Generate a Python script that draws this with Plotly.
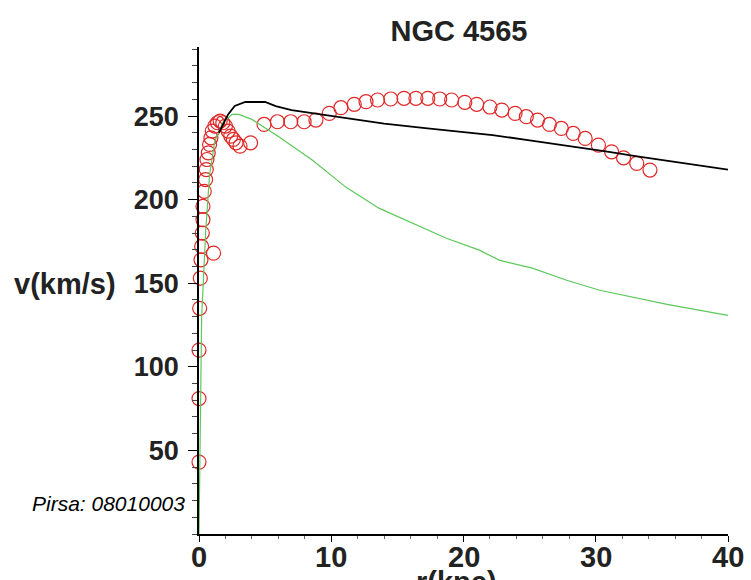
import plotly.graph_objects as go

# --- data ---
# observed rotation curve (red circles)
r_obs = [0.0, 0.0, 0.0, 0.05, 0.1, 0.15, 1.1, 0.2, 0.25, 0.3, 0.3, 0.4, 0.5, 0.55,
         0.6, 0.7, 0.8, 0.9, 1.0, 1.2, 1.4, 1.6, 1.8, 2.0, 2.2, 2.4, 2.6, 2.8, 3.1, 3.9,
         4.92, 5.93, 6.94, 7.95, 8.84, 9.85, 10.73, 11.74, 12.63, 13.5, 14.5, 15.5,
         16.4, 17.3, 18.2, 19.1, 20.1, 21.0, 22.0, 22.9, 23.9, 24.75, 25.6, 26.5,
         27.4, 28.3, 29.2, 30.2, 31.2, 32.1, 33.1, 34.1]
v_obs = [43, 81, 110, 135, 153, 164, 168, 172, 180, 188, 196, 205, 212, 218,
         224, 228, 233, 237, 241, 244, 246, 247, 246, 244, 241, 238, 236, 234, 232, 234,
         245.0, 246.6, 246.6, 246.6, 247.6, 251.6, 255.0, 257.0, 258.6, 259.6, 260.2, 260.6,
         260.6, 260.6, 260.2, 259.6, 258.2, 257.0, 255.4, 253.6, 251.6, 249.6, 247.6, 245.0,
         242.6, 239.6, 236.6, 232.6, 228.6, 225.0, 221.7, 217.7]

# total model curve (black)
r_tot = [1.5, 2.2, 2.7, 3.5, 5.0, 5.8, 7.0, 9.5, 12.0, 14.0, 17.1, 20.0, 22.2,
         25.0, 27.2, 29.0, 31.0, 33.0, 35.1, 37.5, 40.0]
v_tot = [240, 251, 256, 258.4, 258.4, 256, 253.5, 250.6, 247.6, 245.5, 242.8, 240.5, 238.6,
         235.5, 233, 231, 228.6, 226, 223.7, 221, 218]

# luminous-matter curve (green)
r_lum = [0.0, 0.1, 0.2, 0.5, 0.8, 1.2, 1.8, 2.5, 3.0, 4.0, 5.0, 6.06, 8.56, 11.1,
         13.6, 16.1, 18.7, 21.2, 22.7, 25.2, 27.8, 30.3, 32.8, 35.4, 37.9, 40.0]
v_lum = [0, 80, 130, 180, 215, 235, 246, 251, 251, 248, 243, 237.4, 223.7, 207.5,
         194.9, 185.9, 176.9, 169.8, 163.8, 159, 151.8, 145.8, 141.6, 137.4, 133.8, 130.8]

x_ticks = [0, 10, 20, 30, 40]
y_ticks = [50, 100, 150, 200, 250]

FONT = "Liberation Sans, Arial, sans-serif"

fig = go.Figure()
fig.add_trace(go.Scatter(x=r_obs, y=v_obs, mode="markers", cliponaxis=False,
                         marker=dict(symbol="circle-open", size=14, color="#e02828",
                                     line=dict(width=1.2, color="#e02828")),
                         showlegend=False))
fig.add_trace(go.Scatter(x=r_lum, y=v_lum, mode="lines", cliponaxis=False,
                         line=dict(color="#5cc85c", width=1.2), showlegend=False))
fig.add_trace(go.Scatter(x=r_tot, y=v_tot, mode="lines", cliponaxis=False,
                         line=dict(color="black", width=1.8), showlegend=False))

fig.update_layout(
    width=751, height=580,
    margin=dict(l=199, r=23, t=47, b=46),
    paper_bgcolor="white", plot_bgcolor="white",
    font=dict(family=FONT, color="black"),
    title=dict(text="<b>NGC 4565</b>", x=459 / 751, xanchor="center",
               y=1 - 31 / 580, yanchor="middle",
               font=dict(size=29, family=FONT, color="#222")),
)
fig.update_xaxes(range=[0, 40], tickvals=x_ticks, automargin=False, showticklabels=False,
                 showgrid=False, zeroline=False, showline=True, linecolor="black", linewidth=1.5,
                 ticks="outside", ticklen=6, tickwidth=1.2, tickcolor="black",
                 minor=dict(dtick=2, ticks="outside", ticklen=3, tickcolor="#666", tickwidth=1))
fig.update_yaxes(range=[0, 291.3], tickvals=y_ticks, automargin=False,
                 ticktext=[f"<b>{t}</b>" for t in y_ticks],
                 showgrid=False, zeroline=False, showline=True, linecolor="black", linewidth=1.5,
                 ticks="outside", ticklen=9, tickwidth=1.2, tickcolor="black",
                 ticklabelstandoff=4,
                 tickfont=dict(size=27, family=FONT, color="#222"),
                 minor=dict(dtick=10, ticks="outside", ticklen=5, tickcolor="#444", tickwidth=1))

# x tick labels placed just under the axis, as in the reference
for t in x_ticks:
    fig.add_annotation(text=f"<b>{t}</b>", xref="x", yref="paper",
                       x=t, y=(533.5 - 556) / 487, xanchor="center", yanchor="middle",
                       showarrow=False, font=dict(size=29, family=FONT, color="#222"))

fig.add_annotation(text="<b>v(km/s)</b>", xref="paper", yref="paper",
                   x=(64.5 - 199) / 529, y=(533.5 - 283) / 487,
                   xanchor="center", yanchor="middle", showarrow=False,
                   font=dict(size=29, family=FONT, color="#222"))
fig.add_annotation(text="<i>Pirsa: 08010003</i>", xref="paper", yref="paper",
                   x=(187 - 199) / 529, y=(533.5 - 503) / 487,
                   xanchor="right", yanchor="middle", showarrow=False,
                   font=dict(size=21, family=FONT, color="black"))
fig.add_annotation(text="<b>r(kpc)</b>", xref="paper", yref="paper",
                   x=(456 - 199) / 529, y=(533.5 - 563) / 487,
                   xanchor="center", yanchor="top", showarrow=False,
                   font=dict(size=29, family=FONT, color="#222"))

fig.write_html("out.html")
